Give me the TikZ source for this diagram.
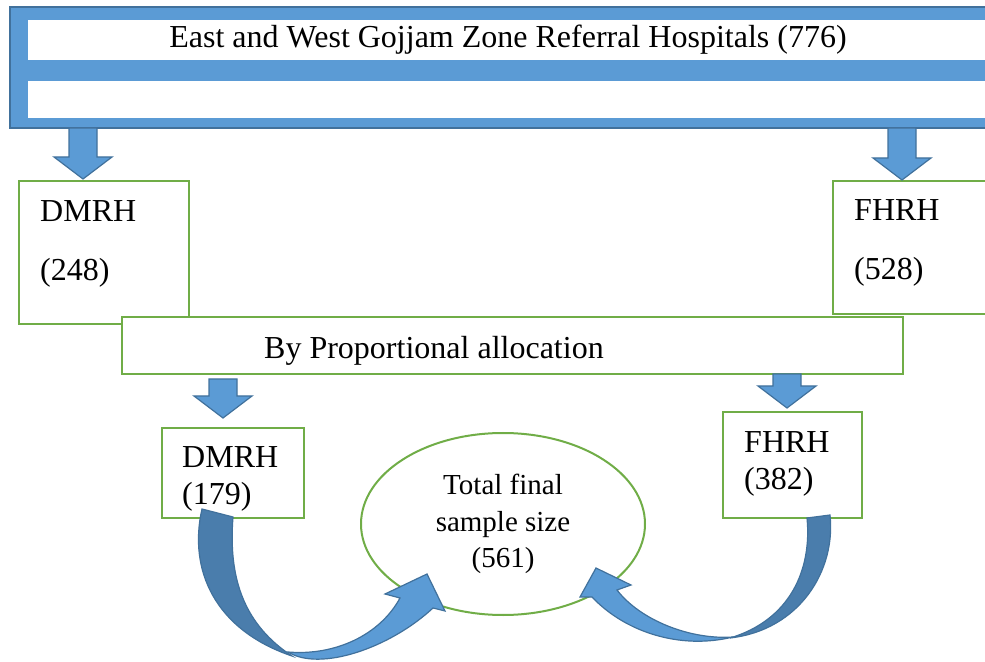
\documentclass[tikz,border=0pt]{standalone}
\usepackage{fontspec}
\setmainfont{Liberation Serif}
\usetikzlibrary{positioning,shapes.geometric}
\definecolor{wdblue}{HTML}{5B9BD5}
\definecolor{wdbluedk}{HTML}{41719C}
\definecolor{wdbluemid}{HTML}{4A7DAC}
\definecolor{wdgreen}{HTML}{70AD47}

\begin{document}
\begin{tikzpicture}[x=0.5pt, y=-0.5pt, font=\fontsize{16}{19.5}\selectfont,
  gbox/.style={draw=wdgreen, line width=1.2pt, fill=white, inner sep=0pt},
  txt/.style={align=left, inner sep=0pt},
  band/.style={fill=wdblue, draw=wdbluedk, line width=0.8pt},
  strip/.style={fill=white, inner sep=0pt, minimum width=480pt},
  blk/.style={fill=wdblue, draw=wdbluedk, line width=0.6pt},
  blkdk/.style={fill=wdbluemid, draw=wdbluedk, line width=0.6pt},
  pics/blkdown/.style={code={\draw[blk] (-14,-#1) -- (14,-#1) -- (14,-22) -- (29,-22) -- (0,0) -- (-29,-22) -- (-14,-22) -- cycle;}}]
\useasboundingbox (0,0) rectangle (985,662);
\clip (0,0) rectangle (985,662);
\draw[band] (10,7) rectangle (1000,128);
\node[strip, minimum height=20pt] (hosp) at (508,40) {East and West Gojjam Zone Referral Hospitals (776)};
\node[strip, minimum height=18.5pt] (hospb) at (508,99.5) {};
\node[gbox, minimum width=85pt, minimum height=71.5pt] (dm1) at (104,252.5) {};
\node[gbox, minimum width=82pt, minimum height=66.5pt] (fh1) at (915,247.5) {};
\node[txt, font=\fontsize{16}{29.5}\selectfont, below right=10pt and 11pt of dm1.north west] (dm1t) {DMRH\\(248)};
\node[txt, font=\fontsize{16}{29.5}\selectfont, below right=9.5pt and 11pt of fh1.north west] (fh1t) {FHRH\\(528)};
\node[gbox, minimum width=390.5pt, minimum height=28.5pt] (by) at (512.5,345.5) {};
\node[txt, right=71.5pt of by.west, yshift=-2.5pt] (byt) {By Proportional allocation};
\node[gbox, minimum width=71pt, minimum height=45pt] (dm2) at (233,473) {};
\node[gbox, minimum width=69.5pt, minimum height=53pt] (fh2) at (792.5,465) {};
\node[txt, font=\fontsize{16}{18.5}\selectfont, below right=9.5pt and 10.5pt of dm2.north west] (dm2t) {DMRH\\(179)};
\node[txt, font=\fontsize{16}{18.5}\selectfont, below right=10pt and 11pt of fh2.north west] (fh2t) {FHRH\\(382)};
\node[draw=wdgreen, line width=1pt, ellipse, minimum width=142pt, minimum height=91pt, inner sep=0pt, align=center, font=\fontsize{14.5}{18.25}\selectfont] (tot) at (503,524) {Total final\\sample size\\(561)};
\pic at (83,179) {blkdown=51};
\pic at (902,180) {blkdown=52};
\pic at (223,418) {blkdown=39};
\pic at (787,408) {blkdown=34};
\draw[blk] (288,652) .. controls (320,672) and (390,648) .. (433,608) -- (445,611) -- (427,574) -- (385,594) -- (400,598) .. controls (380,635) and (335,656) .. (288,652) -- cycle;
\draw[blkdk] (202,509) .. controls (188,570) and (215,630) .. (292,656) .. controls (245,625) and (228,580) .. (233,517) -- cycle;
\draw[blk] (733,637) .. controls (680,650) and (625,632) .. (592,597) -- (580,597) -- (596,568) -- (631,585) -- (617,590) .. controls (640,620) and (690,640) .. (733,637) -- cycle;
\draw[blkdk] (830,515) .. controls (836,570) and (800,630) .. (730,638) .. controls (790,620) and (812,570) .. (807,518) -- cycle;
\end{tikzpicture}
\end{document}
